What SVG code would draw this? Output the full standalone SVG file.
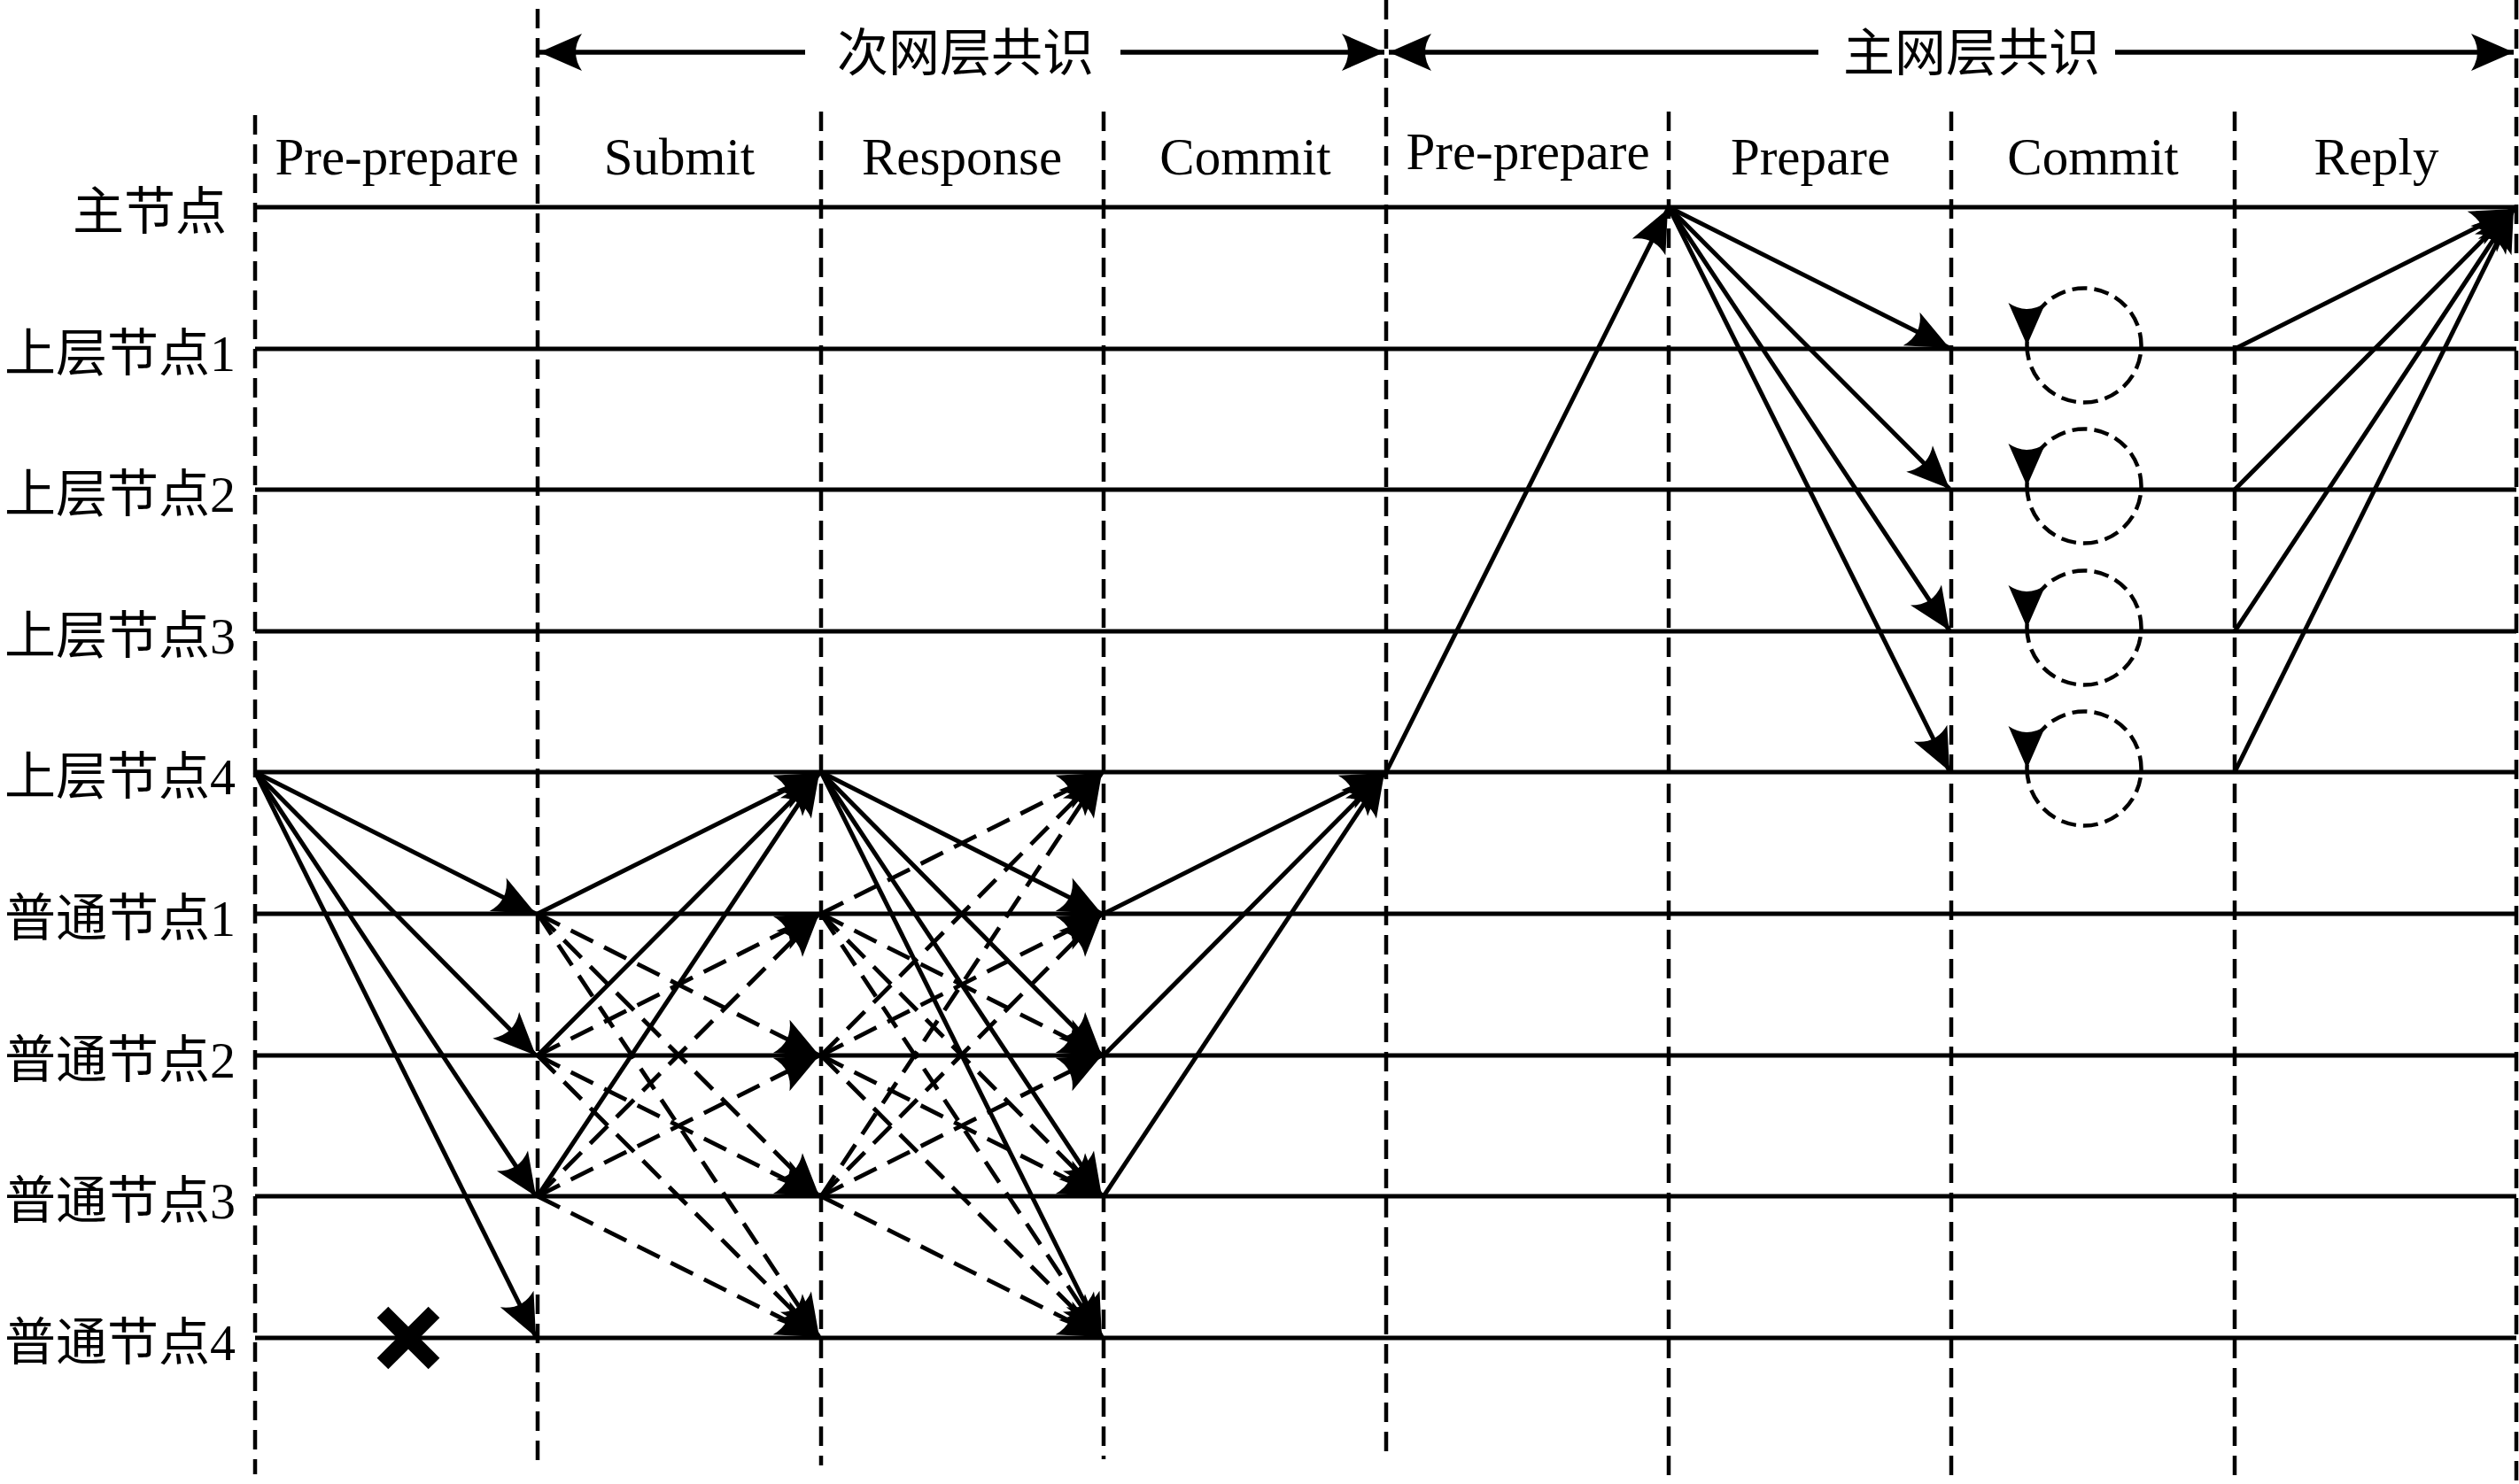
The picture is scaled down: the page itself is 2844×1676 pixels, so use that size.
<svg xmlns="http://www.w3.org/2000/svg" width="2844" height="1676" viewBox="0 0 2844 1676">
<style>
.lbl{font-family:"Liberation Serif","Noto Sans CJK SC",serif;font-size:58px;text-anchor:end;fill:#000}
.top{font-family:"Liberation Serif","Noto Sans CJK SC",serif;font-size:58px;text-anchor:middle;fill:#000}
.ph{font-family:"Liberation Serif",serif;font-size:59px;text-anchor:middle;fill:#000}
.life{stroke:#000;stroke-width:5;fill:none}
.grid{stroke:#000;stroke-width:4.5;stroke-dasharray:22 11;fill:none}
.s{stroke:#000;stroke-width:5;fill:none;marker-end:url(#ah)}
.d{stroke:#000;stroke-width:4.8;fill:none;stroke-dasharray:28 14;marker-end:url(#ah)}
.t{stroke:#000;stroke-width:5.5;fill:none;marker-end:url(#ah)}
.loop{stroke:#000;stroke-width:4.5;fill:none;stroke-dasharray:17 8;marker-end:url(#ah)}
</style>
<defs>
<marker id="ah" markerUnits="userSpaceOnUse" markerWidth="60" markerHeight="60" refX="0" refY="0" orient="auto" style="overflow:visible">
<path d="M0,0 L-48,-21 Q-34,0 -48,21 Z" fill="#000"/>
</marker>
</defs>
<rect width="2844" height="1676" fill="#fff"/>
<g id="grid">
<line class="grid" x1="288" y1="130" x2="288" y2="1665"/>
<line class="grid" x1="607" y1="10" x2="607" y2="1660"/>
<line class="grid" x1="927" y1="126" x2="927" y2="1655"/>
<line class="grid" x1="1246" y1="126" x2="1246" y2="1648"/>
<line class="grid" x1="1565" y1="0" x2="1565" y2="1647"/>
<line class="grid" x1="1884" y1="126" x2="1884" y2="1676"/>
<line class="grid" x1="2203" y1="126" x2="2203" y2="1676"/>
<line class="grid" x1="2523" y1="126" x2="2523" y2="1676"/>
<line class="grid" x1="2841" y1="0" x2="2841" y2="1676"/>
</g>
<g id="phases">
<path class="t" d="M909,59 L609,59"/>
<path class="t" d="M1265,59 L1563,59"/>
<text class="top" x="1090" y="80">次网层共识</text>
<path class="t" d="M2053,59 L1568,59"/>
<path class="t" d="M2388,59 L2838,59"/>
<text class="top" x="2226" y="80">主网层共识</text>
<text class="ph" x="448" y="197">Pre-prepare</text>
<text class="ph" x="767" y="197">Submit</text>
<text class="ph" x="1086" y="197">Response</text>
<text class="ph" x="1406" y="197">Commit</text>
<text class="ph" x="1725" y="191">Pre-prepare</text>
<text class="ph" x="2044" y="197">Prepare</text>
<text class="ph" x="2363" y="197">Commit</text>
<text class="ph" x="2683" y="197">Reply</text>
</g>
<g id="node-main"><text class="lbl" x="256" y="259">主节点</text><line class="life" x1="288" y1="234" x2="2841" y2="234"/></g>
<g id="node-upper1"><text class="lbl" x="266" y="419">上层节点1</text><line class="life" x1="288" y1="394" x2="2841" y2="394"/></g>
<g id="node-upper2"><text class="lbl" x="266" y="578">上层节点2</text><line class="life" x1="288" y1="553" x2="2841" y2="553"/></g>
<g id="node-upper3"><text class="lbl" x="266" y="738">上层节点3</text><line class="life" x1="288" y1="713" x2="2841" y2="713"/></g>
<g id="node-upper4"><text class="lbl" x="266" y="897">上层节点4</text><line class="life" x1="288" y1="872" x2="2841" y2="872"/></g>
<g id="node-normal1"><text class="lbl" x="266" y="1057">普通节点1</text><line class="life" x1="288" y1="1032" x2="2841" y2="1032"/></g>
<g id="node-normal2"><text class="lbl" x="266" y="1217">普通节点2</text><line class="life" x1="288" y1="1192" x2="2841" y2="1192"/></g>
<g id="node-normal3"><text class="lbl" x="266" y="1376">普通节点3</text><line class="life" x1="288" y1="1351" x2="2841" y2="1351"/></g>
<g id="node-normal4"><text class="lbl" x="266" y="1536">普通节点4</text><line class="life" x1="288" y1="1511" x2="2841" y2="1511"/>
<g id="fault"><line x1="432" y1="1482" x2="490" y2="1540" stroke="#000" stroke-width="18"/><line x1="490" y1="1482" x2="432" y2="1540" stroke="#000" stroke-width="18"/></g>
</g>
<g id="connectors">
<path class="s" d="M288,872 L605,1032"/>
<path class="s" d="M288,872 L605,1192"/>
<path class="s" d="M288,872 L605,1351"/>
<path class="s" d="M288,872 L605,1510"/>
<path class="s" d="M607,1032 L925,873"/>
<path class="s" d="M607,1192 L925,873"/>
<path class="s" d="M607,1351 L925,873"/>
<path class="d" d="M607,1032 L925,1192"/>
<path class="d" d="M607,1032 L925,1351"/>
<path class="d" d="M607,1032 L925,1510"/>
<path class="d" d="M607,1192 L925,1032"/>
<path class="d" d="M607,1192 L925,1351"/>
<path class="d" d="M607,1192 L925,1510"/>
<path class="d" d="M607,1351 L925,1032"/>
<path class="d" d="M607,1351 L925,1192"/>
<path class="d" d="M607,1351 L925,1510"/>
<path class="s" d="M927,872 L1244,1032"/>
<path class="s" d="M927,872 L1244,1192"/>
<path class="s" d="M927,872 L1244,1351"/>
<path class="s" d="M927,872 L1244,1510"/>
<path class="d" d="M927,1032 L1244,873"/>
<path class="d" d="M927,1032 L1244,1192"/>
<path class="d" d="M927,1032 L1244,1351"/>
<path class="d" d="M927,1032 L1244,1510"/>
<path class="d" d="M927,1192 L1244,873"/>
<path class="d" d="M927,1192 L1244,1032"/>
<path class="d" d="M927,1192 L1244,1351"/>
<path class="d" d="M927,1192 L1244,1510"/>
<path class="d" d="M927,1351 L1244,873"/>
<path class="d" d="M927,1351 L1244,1032"/>
<path class="d" d="M927,1351 L1244,1192"/>
<path class="d" d="M927,1351 L1244,1510"/>
<path class="s" d="M1246,1032 L1563,873"/>
<path class="s" d="M1246,1192 L1563,873"/>
<path class="s" d="M1246,1351 L1563,873"/>
<path class="s" d="M1565,872 L1883,236"/>
<path class="s" d="M1884,234 L2201,393"/>
<path class="s" d="M1884,234 L2201,552"/>
<path class="s" d="M1884,234 L2201,712"/>
<path class="s" d="M1884,234 L2201,871"/>
<path class="loop" d="M2288.5,390 A64.5,64.5 0 1 0 2417.5,390 A64.5,64.5 0 1 0 2288.5,390"/>
<path class="loop" d="M2288.5,549 A64.5,64.5 0 1 0 2417.5,549 A64.5,64.5 0 1 0 2288.5,549"/>
<path class="loop" d="M2288.5,709 A64.5,64.5 0 1 0 2417.5,709 A64.5,64.5 0 1 0 2288.5,709"/>
<path class="loop" d="M2288.5,868 A64.5,64.5 0 1 0 2417.5,868 A64.5,64.5 0 1 0 2288.5,868"/>
<path class="s" d="M2523,394 L2838,236"/>
<path class="s" d="M2523,553 L2838,236"/>
<path class="s" d="M2523,713 L2838,236"/>
<path class="s" d="M2523,872 L2838,236"/>
</g>
</svg>
